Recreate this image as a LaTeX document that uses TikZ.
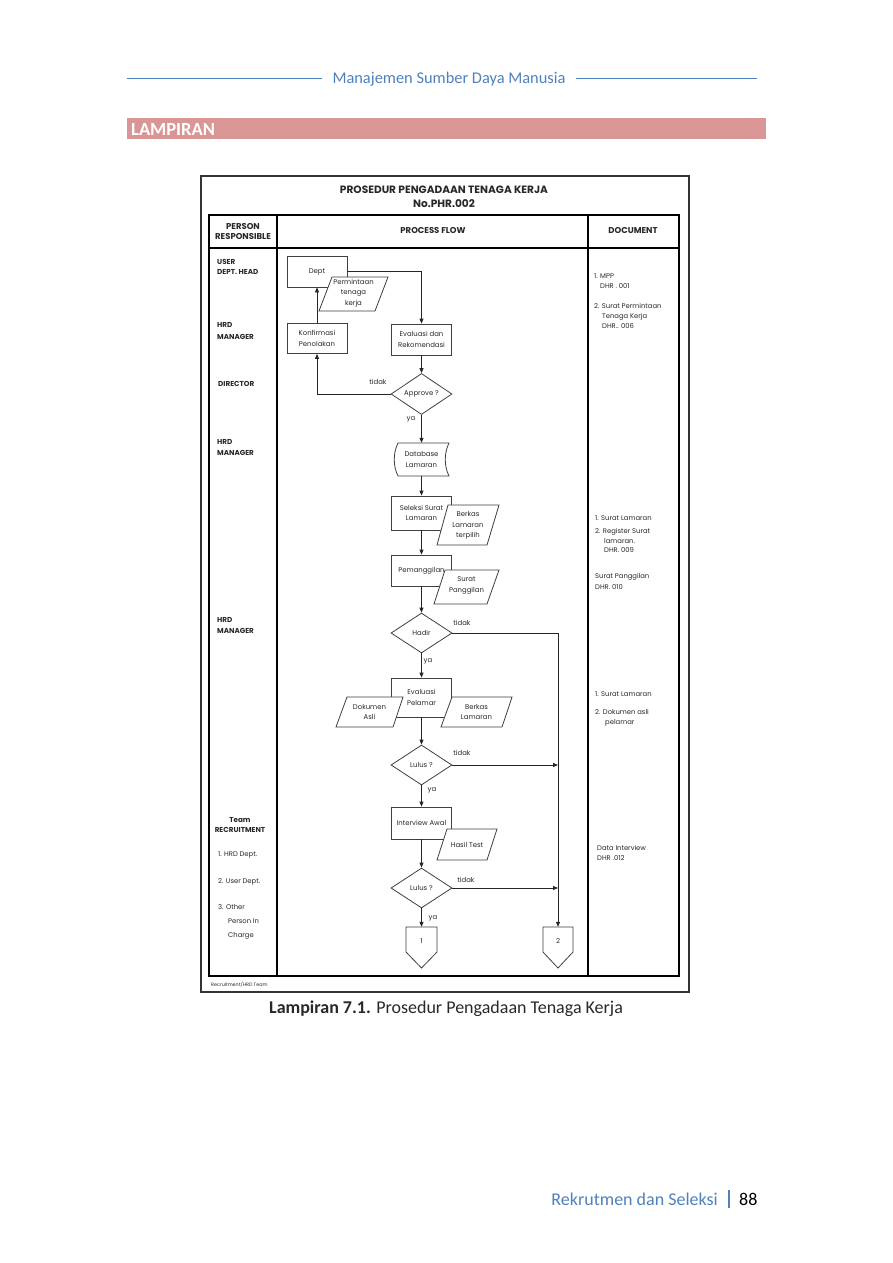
\documentclass[tikz,border=0pt]{standalone}
\usepackage{fontspec}
\setmainfont{Carlito}
\newfontfamily\gfont{Poppins}
\usetikzlibrary{arrows.meta,shapes.geometric}
\definecolor{hblue}{RGB}{79,129,189}
\definecolor{lampbar}{RGB}{217,150,148}
\definecolor{ink}{RGB}{40,40,40}
\begin{document}
\begin{tikzpicture}[x=1pt,y=-1pt,
  every node/.style={inner sep=0pt, text=ink},
  sm/.style={font=\gfont\fontsize{6.9}{10.5}\selectfont, align=center},
  lab/.style={font=\gfont\fontsize{6.8}{10}\selectfont, anchor=base west},
  role/.style={font=\gfont\bfseries\fontsize{7.2}{10}\selectfont, anchor=base west},
  proc/.style={sm, draw=black!75, line width=0.8pt, fill=white, minimum width=60pt},
  dec/.style={sm, diamond, aspect=1.5, draw=black!75, line width=0.8pt, fill=white, minimum width=61pt, minimum height=41pt},
  shp/.style={draw=black!75, line width=0.8pt, fill=white},
  flow/.style={draw=black!85, line width=0.8pt},
  arr/.style={flow, -{Triangle[length=5pt,width=4pt]}},
  tbl/.style={draw=black, line width=1.3pt},
  hd/.style={font=\gfont\bfseries\fontsize{8.5}{10}\selectfont, align=center}
]
\useasboundingbox (0,0) rectangle (892,1263);
\fill[white] (0,0) rectangle (892,1263);

% page header
\draw[hblue, line width=0.8pt] (127,78) -- (322,78);
\draw[hblue, line width=0.8pt] (576,78) -- (757,78);
\node[font=\fontsize{16.4}{18}\selectfont, text=hblue, anchor=base] (hdr) at (449,84) {Manajemen Sumber Daya Manusia};
\fill[lampbar] (127,118) rectangle (766,139);
\node[font=\bfseries\fontsize{18.5}{20}\selectfont, text=white, anchor=base west] (lamp) at (131,135) {LAMPIRAN};

% frame and table
\draw[black!80, line width=1.4pt] (201,176) rectangle (689,992);
\node[font=\gfont\bfseries\fontsize{10.6}{12}\selectfont, anchor=base] (t1) at (444,193.5) {PROSEDUR PENGADAAN TENAGA KERJA};
\node[font=\gfont\bfseries\fontsize{10.6}{12}\selectfont, anchor=base] (t2) at (444,207.5) {No.PHR.002};
\draw[tbl] (209,215) rectangle (679,976);
\draw[tbl] (209,248) -- (679,248);
\draw[tbl] (277,215) -- (277,976);
\draw[tbl] (588,215) -- (588,976);
\node[hd] (hpr) at (243,232) {PERSON\\RESPONSIBLE};
\node[hd] (hpf) at (433,231) {PROCESS FLOW};
\node[hd] (hdc) at (633,231) {DOCUMENT};
\node[font=\gfont\fontsize{4.8}{6}\selectfont, anchor=base west] (foot) at (211,986) {Recruitment/HRD Team};

% person responsible
\node[role] at (217,264.5) {USER};
\node[role] at (217,274.5) {DEPT. HEAD};
\node[role] at (217,327.5) {HRD};
\node[role] at (217,339.5) {MANAGER};
\node[role] at (218,386.5) {DIRECTOR};
\node[role] at (217,444.5) {HRD};
\node[role] at (217,455.5) {MANAGER};
\node[role] at (217,622.5) {HRD};
\node[role] at (217,633.5) {MANAGER};
\node[role, anchor=base] at (240,822.5) {Team};
\node[role, anchor=base] at (240,832.5) {RECRUITMENT};
\node[lab] at (218,856.5) {1. HRD Dept.};
\node[lab] at (218,883.5) {2. User Dept.};
\node[lab] at (218,909.5) {3. Other};
\node[lab] at (228,923.5) {Person In};
\node[lab] at (228,937.5) {Charge};

% documents
\node[lab] at (594,278.5) {1. MPP};
\node[lab] at (600,288.5) {DHR . 001};
\node[lab] at (594,308.5) {2. Surat Permintaan};
\node[lab] at (602,318.5) {Tenaga Kerja};
\node[lab] at (602,328.5) {DHR.. 006};
\node[lab] at (595,520.5) {1. Surat Lamaran};
\node[lab] at (595,533.5) {2. Register Surat};
\node[lab] at (604,543.5) {lamaran.};
\node[lab] at (604,552.5) {DHR. 009};
\node[lab] at (595,578.5) {Surat Panggilan};
\node[lab] at (595,589.5) {DHR. 010};
\node[lab] at (595,696.5) {1. Surat Lamaran};
\node[lab] at (595,714.5) {2. Dokumen asli};
\node[lab] at (605,724.5) {pelamar};
\node[lab] at (597,850.5) {Data Interview};
\node[lab] at (597,860.5) {DHR .012};

% process nodes
\node[proc, minimum height=31pt] (dept) at (317,271.5) {Dept};
\node[proc, minimum height=30pt] (konf) at (317,338.5) {Konfirmasi\\Penolakan};
\node[proc, minimum height=31pt] (eval1) at (421.5,339.5) {Evaluasi dan\\Rekomendasi};
\node[dec] (appr) at (421.5,394) {Approve ?};
\node[sm, minimum width=55pt, minimum height=33pt] (db) at (421.5,459.5) {};
\node[proc, minimum height=34pt] (sel) at (421.5,513) {Seleksi Surat\\Lamaran};
\node[proc, minimum height=31pt] (pang) at (421.5,570.5) {Pemanggilan};
\node[dec, minimum height=40pt] (hadir) at (421.5,633) {Hadir};
\node[proc, minimum height=39pt] (evp) at (421.5,697.5) {Evaluasi\\Pelamar};
\node[dec, minimum height=40pt] (l1) at (421.5,765) {Lulus ?};
\node[proc, minimum height=32pt] (intv) at (421.5,823) {Interview Awal};
\node[dec, minimum height=40pt] (l2) at (421.5,888) {Lulus ?};
\node[sm, minimum width=31pt, minimum height=41pt] (c1) at (421.5,947.5) {};
\node[sm, minimum width=30pt, minimum height=41pt] (c2) at (558,947.5) {};

% stored data shape
\draw[shp] (398,443) -- (449,443) .. controls (444,453) and (444,466) .. (449,476) -- (398,476)
  .. controls (393,466) and (393,453) .. (398,443) -- cycle;
\node[sm] (dbt) at (db) {Database\\Lamaran};

% off-page connectors
\draw[shp] (406,927) -- (437,927) -- (437,952) -- (421.5,968) -- (406,952) -- cycle;
\node[sm] (c1t) at (421.5,941) {1};
\draw[shp] (543,927) -- (573,927) -- (573,952) -- (558,968) -- (543,952) -- cycle;
\node[sm] (c2t) at (558,941) {2};

% documents (parallelograms)
\draw[shp] (332,277) -- (388,277) -- (375,311) -- (319,311) -- cycle;
\node[sm] (perm) at (353.5,293) {Permintaan\\tenaga\\kerja};
\draw[shp] (448,505) -- (499,505) -- (487,545) -- (437,545) -- cycle;
\node[sm] (berk1) at (468,525.5) {Berkas\\Lamaran\\terpilih};
\draw[shp] (445,570) -- (499,570) -- (487,604) -- (434,604) -- cycle;
\node[sm] (surat) at (466.5,585.5) {Surat\\Panggilan};
\draw[shp] (347,697) -- (403,697) -- (393,727) -- (336,727) -- cycle;
\node[sm] (dok) at (369.5,712) {Dokumen\\Asli};
\draw[shp] (452,697) -- (512,697) -- (502,727) -- (441,727) -- cycle;
\node[sm] (berk2) at (476.5,712) {Berkas\\Lamaran};
\draw[shp] (447,829) -- (497,829) -- (487,860) -- (437,860) -- cycle;
\node[sm] (hasil) at (467,844.5) {Hasil Test};

% connectors
\draw[arr] (dept.east) -| (eval1.north);
\draw[arr] (konf.north) -- (dept.south);
\draw[arr] (eval1.south) -- (appr.north);
\draw[arr] (appr.west) -| (konf.south);
\draw[arr] (appr.south) -- (db.north);
\draw[arr] (db.south) -- (sel.north);
\draw[arr] (sel.south) -- (pang.north);
\draw[arr] (pang.south) -- (hadir.north);
\draw[arr] (hadir.east) -| (c2.north);
\draw[arr] (hadir.south) -- (evp.north);
\draw[arr] (evp.south) -- (l1.north);
\draw[arr] (l1.east) -- (l1.east -| c2.north);
\draw[arr] (l1.south) -- (intv.north);
\draw[arr] (intv.south) -- (l2.north);
\draw[arr] (l2.east) -- (l2.east -| c2.north);
\draw[arr] (l2.south) -- (c1.north);

% branch labels
\node[sm] at (378,382) {tidak};
\node[sm] at (411,419) {ya};
\node[sm] at (462,623) {tidak};
\node[sm] at (428,661) {ya};
\node[sm] at (462,753) {tidak};
\node[sm] at (432,790) {ya};
\node[sm] at (466,880) {tidak};
\node[sm] at (433,918) {ya};

% caption and footer
\node[font=\fontsize{18}{20}\selectfont, anchor=base] (cap) at (446,1013.5) {\textbf{Lampiran 7.1.} Prosedur Pengadaan Tenaga Kerja};
\node[font=\fontsize{18}{20}\selectfont, text=hblue, anchor=base east] (ft1) at (718,1205.5) {Rekrutmen dan Seleksi};
\draw[hblue, line width=1.1pt] (729,1190) -- (729,1208);
\node[font=\fontsize{18}{20}\selectfont, text=black, anchor=base west] (ft2) at (739,1205.5) {88};
\end{tikzpicture}
\end{document}
